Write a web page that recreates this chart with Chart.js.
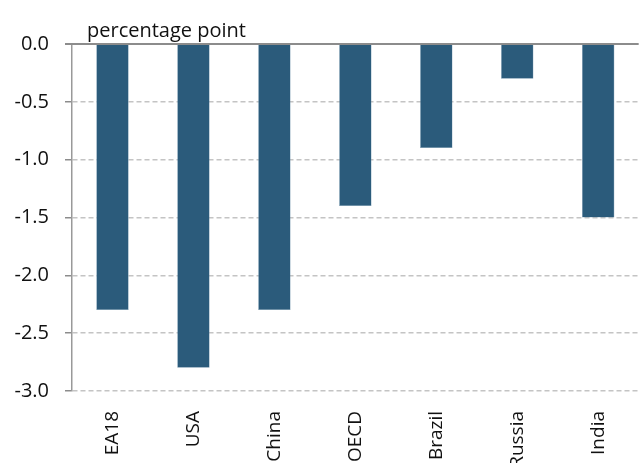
<!DOCTYPE html>
<html>
<head>
<meta charset="utf-8">
<script src="https://cdn.jsdelivr.net/npm/chart.js@4/dist/chart.umd.min.js"></script>
<style>
  html, body { margin: 0; padding: 0; background: #fff; }
  #wrap { width: 641px; height: 463px; position: relative; }
</style>
</head>
<body>
<div id="wrap"><canvas id="grafico"></canvas></div>
<script>
// ===== DADOS =====
const paises = ["EA18", "USA", "China", "OECD", "Brazil", "Russia", "India"];
const variacao = [-2.3, -2.8, -2.3, -1.4, -0.9, -0.3, -1.5];
const eixoY = { min: -3.0, max: 0.0, passo: 0.5 };
const unidade = "percentage point";

const FONTE = "'Open Sans', 'DejaVu Sans', sans-serif";
const AZUL = "#2b5b7b";

// linha sólida do zero + rótulo da unidade
const linhaZero = {
  id: "linhaZero",
  afterDatasetsDraw(chart) {
    const { ctx, chartArea, scales } = chart;
    const y = scales.y.getPixelForValue(0);
    ctx.save();
    ctx.strokeStyle = "#8c8c8c";
    ctx.lineWidth = 2;
    ctx.beginPath();
    ctx.moveTo(chartArea.left - 7, y);
    ctx.lineTo(chartArea.right, y);
    ctx.stroke();

    ctx.fillStyle = "#111";
    ctx.font = "20px " + FONTE;
    ctx.textBaseline = "bottom";
    ctx.textAlign = "left";
    ctx.fillText(unidade, chartArea.left + 15, y - 3);
    ctx.restore();
  }
};

const ctx = document.getElementById("grafico").getContext("2d");

new Chart(ctx, {
  type: "bar",
  data: {
    labels: paises,
    datasets: [{
      data: variacao,
      backgroundColor: AZUL,
      borderColor: "#6f93ad",
      borderWidth: 0.5,
      barPercentage: 0.4,
      categoryPercentage: 1.0,
    }]
  },
  options: {
    responsive: true,
    maintainAspectRatio: false,
    animation: false,
    layout: { padding: { top: 44, right: 0, bottom: 0, left: 0 } },
    plugins: {
      legend: { display: false },
      tooltip: { enabled: false },
    },
    scales: {
      x: {
        afterFit: (s) => { s.height = 72; },
        grid: { display: false, drawTicks: false },
        border: { display: false },
        ticks: {
          color: "#111",
          font: { family: FONTE, size: 19 },
          minRotation: 90,
          maxRotation: 90,
          padding: 20,
        },
      },
      y: {
        min: eixoY.min,
        max: eixoY.max,
        afterFit: (s) => { s.width = 72; },
        grid: {
          color: "#c4c4c4",
          lineWidth: 1.5,
          tickColor: "#8c8c8c",
          tickLength: 7,
          tickBorderDash: [],
        },
        border: { display: true, color: "#999", width: 1.5, dash: [5, 3] },
        ticks: {
          stepSize: eixoY.passo,
          color: "#111",
          font: { family: FONTE, size: 20 },
          padding: 16,
          callback: (val) => Number(val).toFixed(1),
        },
      },
    },
  },
  plugins: [linhaZero],
});
</script>
</body>
</html>
